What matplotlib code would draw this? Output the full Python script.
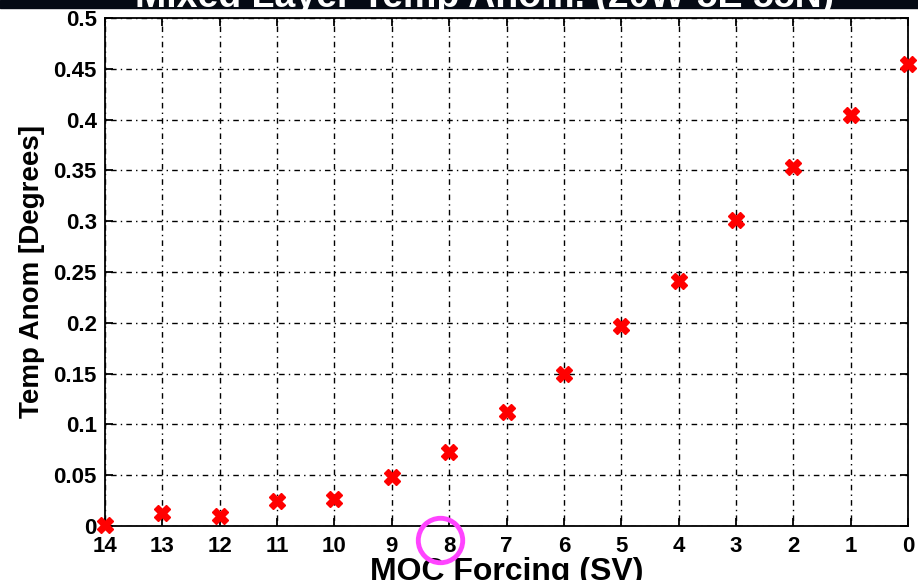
import matplotlib
matplotlib.use("Agg")
import matplotlib.pyplot as plt

# MOC forcing (Sv) and mixed-layer temperature anomaly (degrees)
forcing = [14, 13, 12, 11, 10, 9, 8, 7, 6, 5, 4, 3, 2, 1, 0]
temp_anom = [0.001, 0.013, 0.010, 0.025, 0.027, 0.048, 0.073, 0.112,
             0.150, 0.197, 0.241, 0.301, 0.353, 0.405, 0.455]

x_ticks = list(range(14, -1, -1))
y_ticks = [0, 0.05, 0.1, 0.15, 0.2, 0.25, 0.3, 0.35, 0.4, 0.45, 0.5]
y_tick_labels = ["0", "0.05", "0.1", "0.15", "0.2", "0.25", "0.3",
                 "0.35", "0.4", "0.45", "0.5"]

plt.rcParams["font.family"] = ["Liberation Sans", "DejaVu Sans"]
plt.rcParams["font.weight"] = "bold"

W, H = 918, 580
fig = plt.figure(figsize=(W / 100, H / 100), dpi=100)
fig.patch.set_facecolor("white")

ax = fig.add_axes([105 / W, 1 - 526 / H, (908 - 105) / W, (526 - 18) / H])
ax.plot(forcing, temp_anom, linestyle="none", marker="X", markersize=11,
        color="#ff0000", markeredgecolor="#ff0000", clip_on=False, zorder=5)

ax.set_xlim(14, 0)
ax.set_ylim(0, 0.5)
ax.set_xticks(x_ticks)
ax.set_xticklabels([str(v) for v in x_ticks])
ax.set_yticks(y_ticks)
ax.set_yticklabels(y_tick_labels)
ax.tick_params(direction="in", top=True, right=True, length=6, width=1.3,
               labelsize=16)
ax.tick_params(axis="x", pad=7)
ax.tick_params(axis="y", pad=6)
for lab in ax.get_xticklabels() + ax.get_yticklabels():
    lab.set_fontweight("bold")
ax.grid(True, color="black", linestyle=(0, (1, 3, 4, 3)), linewidth=1.0)
for sp in ax.spines.values():
    sp.set_linewidth(1.3)

ax.set_ylabel("Temp Anom [Degrees]", fontsize=20, fontweight="bold", labelpad=6)
ax.set_xlabel("MOC Forcing (SV)", fontsize=23, fontweight="bold", labelpad=0)

# dark title band along the top edge
band = plt.Rectangle((0, 1 - 8 / H), 1, 8 / H, transform=fig.transFigure,
                     color="#050a14", zorder=0)
fig.add_artist(band)
fig.text(0.528, 1 - 7 / H, "Mixed Layer Temp Anom. (20W-5E 55N)",
         color="white", fontsize=27, fontweight="bold", ha="center",
         va="baseline", zorder=1)

# highlight ring around the 8 Sv tick
ring_x, ring_y = 440 / W, 1 - 540 / H
fig.add_artist(plt.Line2D([ring_x], [ring_y], transform=fig.transFigure,
                          marker="o", markersize=32, markerfacecolor="none",
                          markeredgecolor="#ff44ff", markeredgewidth=3.5,
                          linestyle="none"))

fig.savefig("out.png", dpi=100)
